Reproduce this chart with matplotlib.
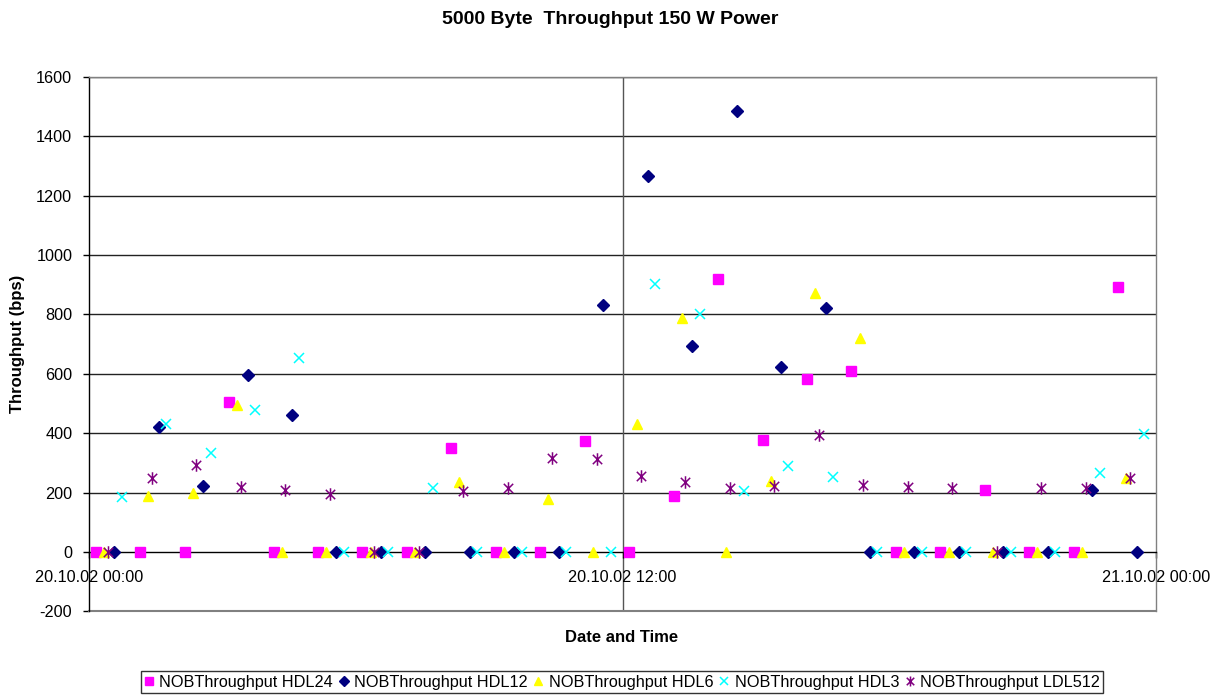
import matplotlib
matplotlib.use("Agg")
import matplotlib.pyplot as plt
from matplotlib.path import Path
import pandas as pd

plt.rcParams['font.family'] = ['Liberation Sans', 'DejaVu Sans']
plt.rcParams['axes.unicode_minus'] = False

# ---------------- data ----------------
start = "2002-10-20 00:00"
hours = list(range(24))
series_names = ["NOBThroughput HDL24", "NOBThroughput HDL12", "NOBThroughput HDL6",
                "NOBThroughput HDL3", "NOBThroughput LDL512"]
sample_minute = [9, 34, 20, 44, 25]

hdl24 = [0, 0, 0, 505, 0, 0, 0, 0, 351, 0, 0, 375, 0, 188, 918, 378, 583, 610, 0, 0, 207, 0, 0, 893]
hdl12 = [0, 422, 221, 597, 461, 0, 0, 0, 0, 0, 0, 831, 1268, 693, 1487, 624, 823, 0, 0, 0, 0, 0, 209, 0]
hdl6 = [0, 190, 200, 496, 0, 0, 0, 0, 235, 0, 178, 0, 430, 788, 0, 240, 871, 720, 0, 0, 0, 0, 0, 249]
hdl3 = [184, 430, 333, 477, 655, 0, 0, 214, 0, 0, 0, 0, 904, 800, 205, 291, 251, 0, 0, 0, 0, 0, 267, 396]
ldl512 = [0, 248, 294, 220, 209, 194, 0, 0, 204, 214, 317, 314, 255, 236, 217, 221, 395, 224, 220, 217, 0, 217, 214, 248]

x_tick_labels = ["20.10.02 00:00", "20.10.02 12:00", "21.10.02 00:00"]
y_ticks = list(range(-200, 1601, 200))

# ---------------- styles ----------------
asterisk = Path([(0, -1), (0, 1), (-0.75, -0.75), (0.75, 0.75), (-0.75, 0.75), (0.75, -0.75)],
                [Path.MOVETO, Path.LINETO, Path.MOVETO, Path.LINETO, Path.MOVETO, Path.LINETO])
styles = [
    dict(marker='s', color='#FF00FF', ms=6.5, mec='#FF00FF'),
    dict(marker='D', color='#000080', ms=6.2, mec='#000080'),
    dict(marker='^', color='#FFFF00', ms=7.8, mec='#FFFF00'),
    dict(marker='x', color='#00FFFF', ms=7.5, mew=1.1),
    dict(marker=asterisk, color='#800080', ms=9, mew=1.1),
]

W, H = 1228, 696
L, R, T, B = 89, 1156, 77, 611.3
fig = plt.figure(figsize=(W / 100, H / 100), dpi=100)
ax = fig.add_axes([L / W, 1 - B / H, (R - L) / W, (B - T) / H])

t0 = pd.Timestamp(start)
values = [hdl24, hdl12, hdl6, hdl3, ldl512]
handles = []
for name, vals, minute, st in zip(series_names, values, sample_minute, styles):
    times = [t0 + pd.Timedelta(hours=h, minutes=minute) for h in hours]
    xs = [(t - t0) / pd.Timedelta(hours=1) for t in times]
    h, = ax.plot(xs, vals, linestyle='none', label=name, zorder=3, **st)
    handles.append(h)

ax.set_xlim(0, 24)
ax.set_ylim(-200, 1600)
ax.set_yticks(y_ticks)
ax.set_xticks([0, 12, 24])
ax.set_xticklabels(x_tick_labels)

# grid
for yv in y_ticks[2:]:
    ax.axhline(yv, color='#222222', lw=1.0, zorder=1)
ax.axvline(12, color='#555555', lw=1.0, zorder=1)

# spines
for s in ['top', 'right']:
    ax.spines[s].set_color('#808080')
    ax.spines[s].set_linewidth(1.0)
ax.spines['left'].set_color('black')
ax.spines['left'].set_linewidth(1.0)
ax.spines['bottom'].set_position(('data', 0))
ax.spines['bottom'].set_color('black')
ax.spines['bottom'].set_linewidth(1.0)
ax.axhline(-200, color='#808080', lw=1.5, zorder=2, clip_on=False)

ax.tick_params(axis='y', direction='out', length=4, width=1, pad=8, labelsize=11.7)
ax.tick_params(axis='x', direction='out', length=4, width=1, pad=9, labelsize=11.7)

ax.set_ylabel("Throughput (bps)", fontsize=12, fontweight='bold')
ax.yaxis.set_label_coords((18 - L) / (R - L), 0.5)
ax.yaxis.label.set_va('center')
fig.text(622 / W, 1 - 638 / H, "Date and Time", fontsize=12, fontweight='bold',
         ha='center', va='center')
fig.text(610 / W, 1 - 20 / H, "5000 Byte  Throughput 150 W Power", fontsize=14,
         fontweight='bold', ha='center', va='center')

leg = fig.legend(handles=handles, loc='center', bbox_to_anchor=(622 / W, 1 - 682 / H),
                 ncol=5, frameon=True, fontsize=11.7, handlelength=0.6, handletextpad=0.35,
                 columnspacing=0.35, borderpad=0.2, borderaxespad=0, fancybox=False,
                 edgecolor='black', markerscale=0.8)
leg.get_frame().set_linewidth(1.0)

fig.savefig("out.png", dpi=100)
